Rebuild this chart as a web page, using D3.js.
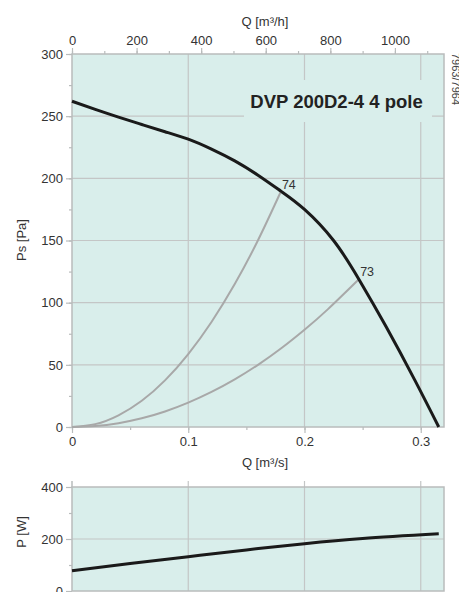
<!DOCTYPE html>
<html><head><meta charset="utf-8">
<script src="https://cdn.jsdelivr.net/npm/d3@7"></script>
<style>
html,body{margin:0;padding:0;background:#fff;overflow:hidden}
text{font-family:"Liberation Sans",Arial,sans-serif;fill:#333}
</style></head>
<body>
<svg id="c" width="459" height="592"></svg>
<script>
// ---- data ----
const fanQ  = [0, 0.02, 0.04, 0.06, 0.08, 0.1, 0.12, 0.14, 0.16, 0.18, 0.2, 0.225, 0.247, 0.27, 0.295, 0.3155];
const fanPs = [262, 255.4, 249.2, 243.3, 237.5, 231.5, 223.5, 214, 202.5, 189.5, 175, 150, 118.5, 81, 37.5, 0];

const sys74Q  = [0, 0.02, 0.04, 0.06, 0.08, 0.1, 0.12, 0.14, 0.16, 0.1797];
const sys74Ps = [0, 2.3, 9.4, 21.1, 37.5, 58.7, 84.5, 115, 150.2, 189.4];

const sys73Q  = [0, 0.02, 0.04, 0.06, 0.08, 0.1, 0.12, 0.14, 0.16, 0.18, 0.2, 0.22, 0.247];
const sys73Ps = [0, 0.8, 3.1, 7.0, 12.5, 19.6, 28.2, 38.3, 50.0, 63.3, 78.2, 94.6, 119.0];

const pointLabels = ["74", "73"];
const pointQ  = [0.1797, 0.247];
const pointPs = [189.4, 119.0];

const powQ = [0, 0.05, 0.1, 0.15, 0.2, 0.25, 0.3155];
const powP = [78, 106, 132, 158, 182, 202, 220];

const qTicks   = [0, 0.1, 0.2, 0.3];
const qhTicks  = [0, 200, 400, 600, 800, 1000];
const psTicks  = [0, 50, 100, 150, 200, 250, 300];
const pTicks   = [0, 200, 400];
const title = "DVP 200D2-4 4 pole";
const code = "7963/7964";

// ---- scales ----
const svg = d3.select("#c");
const x = d3.scaleLinear([0, 0.32], [72, 444]);
const xh = d3.scaleLinear([0, 1152], [72, 444]);
const y = d3.scaleLinear([0, 300], [427, 54]);
const yp = d3.scaleLinear([0, 400], [591, 487]);

const bg = "#d9eeeb", grid = "#c4c6c6", axc = "#b9bcbc";

// ---- main plot ----
svg.append("rect").attr("x", x(0)).attr("y", y(300)).attr("width", x(0.32)-x(0)).attr("height", y(0)-y(300)).attr("fill", bg);

const g = svg.append("g");
g.selectAll(".vg").data([0.1, 0.2, 0.3]).join("line")
  .attr("x1", d=>x(d)).attr("x2", d=>x(d)).attr("y1", y(300)).attr("y2", y(0))
  .attr("stroke", grid).attr("stroke-width", 1.2);
g.selectAll(".hg").data([50,100,150,200,250]).join("line")
  .attr("x1", x(0)).attr("x2", x(0.32)).attr("y1", d=>y(d)).attr("y2", d=>y(d))
  .attr("stroke", grid).attr("stroke-width", 1.2);

// title box covering grid
svg.append("rect").attr("x", 244).attr("y", 80).attr("width", 188).attr("height", 42).attr("fill", bg);
svg.append("text").attr("x", 336.5).attr("y", 107.5).attr("text-anchor", "middle")
  .style("font-size", "18.5px").style("font-weight", "bold").style("fill", "#222").text(title);

// frame
svg.append("rect").attr("x", x(0)).attr("y", y(300)).attr("width", x(0.32)-x(0)).attr("height", y(0)-y(300))
  .attr("fill", "none").attr("stroke", axc).attr("stroke-width", 1.5);

// axes
function styleAxis(sel){
  sel.select(".domain").remove();
  sel.selectAll(".tick line").attr("stroke", axc).attr("stroke-width", 1.2);
  sel.selectAll(".tick text").style("font-size", "13px").style("fill", "#333");
}
// left
svg.append("g").attr("transform", `translate(${x(0)},0)`)
  .call(d3.axisLeft(y).tickValues(d3.range(0, 301, 25)).tickSize(3).tickFormat(()=>""))
  .call(styleAxis);
svg.append("g").attr("transform", `translate(${x(0)},0)`)
  .call(d3.axisLeft(y).tickValues(psTicks).tickSize(6).tickPadding(3).tickFormat(d3.format("d")))
  .call(styleAxis);
// bottom
svg.append("g").attr("transform", `translate(0,${y(0)})`)
  .call(d3.axisBottom(x).tickValues(d3.range(0, 0.32, 0.05)).tickSize(3).tickFormat(()=>""))
  .call(styleAxis);
svg.append("g").attr("transform", `translate(0,${y(0)})`)
  .call(d3.axisBottom(x).tickValues(qTicks).tickSize(6).tickPadding(4).tickFormat(d=>d===0?"0":d3.format(".1f")(d)))
  .call(styleAxis);
// top
svg.append("g").attr("transform", `translate(0,${y(300)})`)
  .call(d3.axisTop(xh).tickValues(d3.range(0, 1152, 100)).tickSize(3).tickFormat(()=>""))
  .call(styleAxis);
svg.append("g").attr("transform", `translate(0,${y(300)})`)
  .call(d3.axisTop(xh).tickValues(qhTicks).tickSize(6).tickPadding(3).tickFormat(d3.format("d")))
  .call(styleAxis);

// axis titles
svg.append("text").attr("x", 265).attr("y", 26).attr("text-anchor", "middle").style("font-size", "13px").text("Q [m³/h]");
svg.append("text").attr("x", 265).attr("y", 467).attr("text-anchor", "middle").style("font-size", "13px").text("Q [m³/s]");
svg.append("text").attr("transform", "translate(26,240) rotate(-90)").attr("text-anchor", "middle").style("font-size", "13px").text("Ps [Pa]");
svg.append("text").attr("transform", "translate(452,53) rotate(90)").attr("text-anchor", "start").style("font-size", "11px").style("fill", "#444").text(code);

// curves
const sysLine = d3.line().curve(d3.curveNatural);
svg.append("path").attr("d", sysLine(sys74Q.map((q,i)=>[x(q), y(sys74Ps[i])])))
  .attr("fill", "none").attr("stroke", "#a8a8a8").attr("stroke-width", 2);
svg.append("path").attr("d", sysLine(sys73Q.map((q,i)=>[x(q), y(sys73Ps[i])])))
  .attr("fill", "none").attr("stroke", "#a8a8a8").attr("stroke-width", 2);
svg.append("path").attr("d", d3.line().curve(d3.curveNatural)(fanQ.map((q,i)=>[x(q), y(fanPs[i])])))
  .attr("fill", "none").attr("stroke", "#1a1a1a").attr("stroke-width", 3);

svg.selectAll(".pl").data(pointLabels).join("text")
  .attr("x", (d,i)=>x(pointQ[i])+1).attr("y", (d,i)=>y(pointPs[i])-3)
  .style("font-size", "12.5px").style("fill", "#333").text(d=>d);

// ---- power plot ----
svg.append("rect").attr("x", x(0)).attr("y", yp(400)).attr("width", x(0.32)-x(0)).attr("height", yp(0)-yp(400)).attr("fill", bg);
svg.selectAll(".pvg").data([0.1, 0.2, 0.3]).join("line")
  .attr("x1", d=>x(d)).attr("x2", d=>x(d)).attr("y1", yp(400)-6).attr("y2", yp(0))
  .attr("stroke", grid).attr("stroke-width", 1.2);
svg.append("line").attr("x1", x(0)).attr("x2", x(0.32)).attr("y1", yp(200)).attr("y2", yp(200))
  .attr("stroke", grid).attr("stroke-width", 1.2);
svg.append("rect").attr("x", x(0)).attr("y", yp(400)).attr("width", x(0.32)-x(0)).attr("height", yp(0)-yp(400))
  .attr("fill", "none").attr("stroke", axc).attr("stroke-width", 1.5);
svg.append("line").attr("x1", x(0)).attr("x2", x(0)).attr("y1", yp(400)-6).attr("y2", yp(400))
  .attr("stroke", axc).attr("stroke-width", 1.5);
svg.append("g").attr("transform", `translate(${x(0)},0)`)
  .call(d3.axisLeft(yp).tickValues([100, 300]).tickSize(3).tickFormat(()=>""))
  .call(styleAxis);
svg.append("g").attr("transform", `translate(${x(0)},0)`)
  .call(d3.axisLeft(yp).tickValues(pTicks).tickSize(6).tickPadding(3).tickFormat(d3.format("d")))
  .call(styleAxis);
svg.append("text").attr("transform", "translate(26,532) rotate(-90)").attr("text-anchor", "middle").style("font-size", "13px").text("P [W]");
svg.append("path").attr("d", d3.line().curve(d3.curveNatural)(powQ.map((q,i)=>[x(q), yp(powP[i])])))
  .attr("fill", "none").attr("stroke", "#1a1a1a").attr("stroke-width", 3);
</script>
</body></html>
